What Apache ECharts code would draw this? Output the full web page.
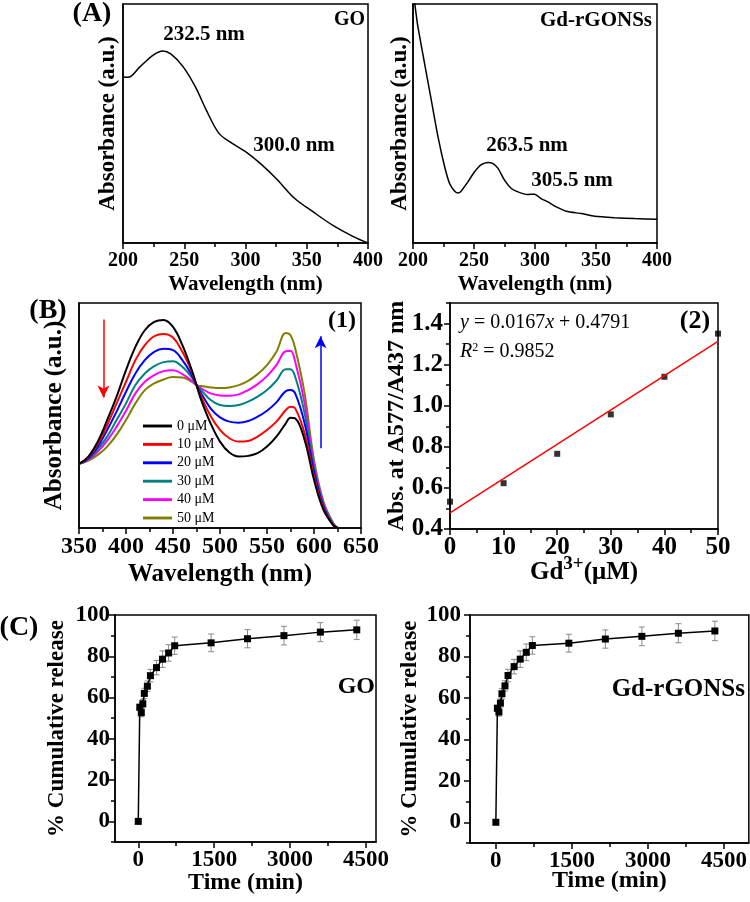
<!DOCTYPE html>
<html><head><meta charset="utf-8">
<script src="https://cdn.jsdelivr.net/npm/echarts@6/dist/echarts.min.js"></script>
<style>html,body{margin:0;padding:0;background:#fff}#c{width:750px;height:902px}</style>
</head><body><div id="c"></div>
<script>
// ---------- DATA ----------
// (A) UV-vis spectra
const goWavelength = [200,204,214,225,232.5,239,249,259,268,278,287,300,312,325,340,355,371,388,400];
const goAbs = [0.696,0.693,0.738,0.787,0.803,0.791,0.738,0.654,0.556,0.461,0.424,0.382,0.333,0.270,0.187,0.131,0.075,0.027,0.0];
const gdWavelength = [200,202,204,209.5,215,220.5,226,230,234,237,239.6,245,250.5,256,261.5,265.6,269.7,275,280.6,286,294,299.7,305,310.6,317.5,325.7,338,349,365,381.7,400];
const gdAbs = [1.06,0.98,0.905,0.751,0.598,0.444,0.318,0.249,0.218,0.209,0.218,0.256,0.298,0.328,0.337,0.332,0.312,0.263,0.228,0.214,0.203,0.204,0.186,0.172,0.151,0.133,0.123,0.112,0.106,0.102,0.099];
const aTicks = [200,250,300,350,400];
const aMinorTicks = [225,275,325,375];

// (B1) titration spectra (arbitrary units)
const bWavelength = [350,360,370,380,390,400,410,420,430,440,450,460,470,475,480,490,500,510,520,530,540,550,560,570,575,580,590,600,610,620,625];
const bNames = ['0 μM','10 μM','20 μM','30 μM','40 μM','50 μM'];
const b0  = [193,215,260,325,395,475,545,595,620,626,605,550,475,430,385,315,260,227,215,217,225,245,275,315,332,330,265,145,55,10,0];
const b10 = [193,213,253,310,375,440,505,550,577,584,573,530,470,430,395,337,295,270,260,262,275,295,320,355,365,360,285,155,60,10,0];
const b20 = [193,210,245,295,350,410,465,505,530,539,535,505,460,430,405,360,333,320,317,322,335,353,378,412,415,405,315,170,65,10,0];
const b30 = [193,207,237,275,325,375,430,465,487,499,502,485,453,430,415,385,370,367,370,380,395,415,443,478,478,455,345,180,70,15,0];
const b40 = [193,205,230,263,305,353,405,440,460,472,475,463,443,430,420,405,399,398,402,415,433,457,490,532,533,500,375,190,75,15,0];
const b50 = [193,203,220,245,280,325,375,415,435,447,454,453,440,430,427,423,421,423,430,443,463,490,530,587,580,540,405,205,80,17,0];
const bColors = ['#000000','#ff0000','#0000ff','#008080','#ff00ff','#808000'];
const bTicks = [350,400,450,500,550,600,650];
const bMinorTicks = [375,425,475,525,575,625];
const redArrowX = 376, redArrowFrom = 627, redArrowTo = 393;
const blueArrowX = 607, blueArrowFrom = 240, blueArrowTo = 577;

// (B2) calibration
const gdConc = [0,10,20,30,40,50];
const ratio = [0.533,0.623,0.766,0.958,1.141,1.351];
const fitX = [0,50];
const fitY = [0.479,1.313];
const b2xTicks = [0,10,20,30,40,50];
const b2xMinor = [5,15,25,35,45];
const b2yTicks = [0.4,0.6,0.8,1.0,1.2,1.4];
const b2yMinor = [0.5,0.7,0.9,1.1,1.3,1.5];

// (C) release
const time = [0,30,60,90,120,180,240,360,480,600,720,1440,2160,2880,3600,4320];
const releaseGO = [0,55.3,52.7,57,62,65.5,70.6,74.5,78.6,81.6,85.1,86.5,88.5,90,91.7,92.8];
const releaseGd = [0,55,53.2,57.5,62,65.8,70.8,75.1,78.7,82,85.3,86.4,88.4,89.7,91.2,92.3];
const errGO = [0,1.5,2,2,2.5,2.5,3,3.5,4,4,4.2,4.3,4.4,4.5,4.6,4.7];
const errGd = [0,1.5,2,2,2.5,2.5,3,3.5,4,4,4.2,4.3,4.4,4.5,4.6,4.7];
const cxTicks = [0,1500,3000,4500];
const cxMinor = [750,2250,3750];
const cyTicks = [0,20,40,60,80,100];
const cyMinor = [-10,10,30,50,70,90];

// ---------- CHART ----------
const FONT = '"Liberation Serif","Times New Roman",serif';
const grids = [
  {left:123, top:4, width:245, height:239},
  {left:413, top:4, width:244, height:239},
  {left:79, top:303, width:282, height:225},
  {left:450, top:303, width:268, height:226},
  {left:115, top:615, width:261, height:227},
  {left:470, top:615, width:279, height:228}
].map(g => Object.assign(g, {show:true, borderColor:'#000', borderWidth:1.5, backgroundColor:'transparent'}));

const xAxes = [], yAxes = [];
function addAxis(arr, gridIndex, c) {
  const idx = arr.length;
  const ls = {color:'#000', width:1.5};
  arr.push({
    type:'value', gridIndex, min:c.min, max:c.max, position:c.position,
    axisLine:{show:true, onZero:false, lineStyle:ls},
    axisTick:{show:!!(c.majors && c.majors.length), inside:false, length:6, customValues:c.majors, lineStyle:ls},
    axisLabel:{show:!!c.labels, customValues:c.majors, margin:c.margin||8, fontFamily:FONT, fontWeight:'bold',
      fontSize:c.fontSize||20, color:'#000', formatter:c.formatter || (v=>String(v))},
    splitLine:{show:false}, minorTick:{show:false},
    name:c.name, nameLocation:'middle', nameGap:c.nameGap, nameMoveOverlap:false,
    nameTextStyle:Object.assign({fontFamily:FONT, fontWeight:'bold', fontSize:c.nameSize||20, color:'#000'}, c.nameStyle||{})
  });
  if (c.minors && c.minors.length) {
    arr.push({type:'value', gridIndex, min:c.min, max:c.max, position:c.position,
      axisLine:{show:false, onZero:false}, axisLabel:{show:false}, splitLine:{show:false},
      axisTick:{show:true, inside:false, length:4, customValues:c.minors, lineStyle:ls}});
  }
  return idx;
}
// A1
const ax0 = addAxis(xAxes,0,{min:200,max:400,majors:aTicks,minors:aMinorTicks,labels:true,fontSize:20,margin:8,name:'Wavelength (nm)',nameGap:31,nameSize:21,position:'bottom'});
const ay0 = addAxis(yAxes,0,{min:0,max:1,majors:[],labels:false,name:'Absorbance (a.u.)',nameGap:3,nameSize:23,position:'left'});
// A2
const ax1 = addAxis(xAxes,1,{min:200,max:400,majors:aTicks,minors:aMinorTicks,labels:true,fontSize:20,margin:8,name:'Wavelength (nm)',nameGap:31,nameSize:21,position:'bottom'});
const ay1 = addAxis(yAxes,1,{min:0,max:1,majors:[],labels:false,name:'Absorbance (a.u.)',nameGap:1,nameSize:23,position:'left'});
// B1
const ax2 = addAxis(xAxes,2,{min:350,max:650,majors:bTicks,minors:bMinorTicks,labels:true,fontSize:24,margin:7,name:'Wavelength (nm)',nameGap:34,nameSize:25,position:'bottom'});
const ay2 = addAxis(yAxes,2,{min:0,max:677,majors:[],labels:false,name:'Absorbance (a.u.)',nameGap:12,nameSize:25,position:'left'});
// B2
const ax3 = addAxis(xAxes,3,{min:0,max:50,majors:b2xTicks,minors:b2xMinor,labels:true,fontSize:25,margin:6,
  name:'{a|Gd}{s|3+}{a|(μM)}',nameGap:26,position:'bottom',
  nameStyle:{rich:{a:{fontFamily:FONT,fontWeight:'bold',fontSize:25,color:'#000'},s:{fontFamily:FONT,fontWeight:'bold',fontSize:19,color:'#000',padding:[0,0,16,0]}}}});
const ay3 = addAxis(yAxes,3,{min:0.4,max:1.5,majors:b2yTicks,minors:b2yMinor,labels:true,fontSize:25,margin:7,
  formatter:v=>v.toFixed(1),name:'Abs. at A577/A437 nm',nameGap:41,nameSize:24,position:'left'});
// C1
const ax4 = addAxis(xAxes,4,{min:-460,max:4700,majors:cxTicks,minors:cxMinor,labels:true,fontSize:23,margin:7,name:'Time (min)',nameGap:29,nameSize:24,position:'bottom'});
const ay4 = addAxis(yAxes,4,{min:-10,max:100,majors:cyTicks,minors:cyMinor,labels:true,fontSize:23,margin:5,name:'% Cumulative release',nameGap:46,nameSize:23,position:'left'});
// C2
const ax5 = addAxis(xAxes,5,{min:-510,max:4990,majors:cxTicks,minors:cxMinor,labels:true,fontSize:23,margin:7,name:'Time (min)',nameGap:26,nameSize:24,position:'bottom'});
const ay5 = addAxis(yAxes,5,{min:-10,max:100,majors:cyTicks,minors:cyMinor,labels:true,fontSize:23,margin:9,name:'% Cumulative release',nameGap:48,nameSize:23,position:'left'});

const zip = (xs, ys) => xs.map((x,i)=>[x, ys[i]]);
const series = [];
series.push({type:'line', xAxisIndex:ax0, yAxisIndex:ay0, data:zip(goWavelength, goAbs), smooth:0.35, symbol:'none', lineStyle:{color:'#000',width:1.5}});
series.push({type:'line', xAxisIndex:ax1, yAxisIndex:ay1, data:zip(gdWavelength, gdAbs), smooth:0.2, symbol:'none', lineStyle:{color:'#000',width:1.5}});
const bSets = [b0,b10,b20,b30,b40,b50];
bSets.forEach((arr,i)=>{
  series.push({type:'line', name:bNames[i], xAxisIndex:ax2, yAxisIndex:ay2, data:zip(bWavelength, arr), smooth:0.4, symbol:'none',
    lineStyle:{color:bColors[i], width:2}, itemStyle:{color:bColors[i]}, z:10-i});
});
series.push({type:'line', xAxisIndex:ax2, yAxisIndex:ay2, data:[], symbol:'none', silent:true,
  markLine:{silent:true, symbol:['none','arrow'], symbolSize:[9,12], label:{show:false},
    data:[
      [{coord:[redArrowX, redArrowFrom], lineStyle:{color:'#ff0000',width:1.5,type:'solid'}},{coord:[redArrowX, redArrowTo]}],
      [{coord:[blueArrowX, blueArrowFrom], lineStyle:{color:'#0000ff',width:1.5,type:'solid'}},{coord:[blueArrowX, blueArrowTo]}]
    ]}});
series.push({type:'line', xAxisIndex:ax3, yAxisIndex:ay3, data:zip(fitX, fitY), symbol:'none', lineStyle:{color:'#ff0000',width:1.5}});
series.push({type:'scatter', xAxisIndex:ax3, yAxisIndex:ay3, data:zip(gdConc, ratio), symbol:'rect', symbolSize:6, itemStyle:{color:'#000'}});

function errSeries(xi, yi, vals, errs) {
  return {type:'custom', xAxisIndex:xi, yAxisIndex:yi, z:1, silent:true,
    data: time.map((t,i)=>[t, vals[i], errs[i]]),
    renderItem(params, api){
      const x=api.value(0), y=api.value(1), e=api.value(2);
      if (!e) return null;
      const a=api.coord([x,y+e]), b=api.coord([x,y-e]);
      const st={stroke:'#8a8a8a', lineWidth:1};
      return {type:'group', children:[
        {type:'line', shape:{x1:a[0],y1:a[1],x2:b[0],y2:b[1]}, style:st},
        {type:'line', shape:{x1:a[0]-3,y1:a[1],x2:a[0]+3,y2:a[1]}, style:st},
        {type:'line', shape:{x1:b[0]-3,y1:b[1],x2:b[0]+3,y2:b[1]}, style:st}
      ]};
    }};
}
series.push(errSeries(ax4, ay4, releaseGO, errGO));
series.push({type:'line', xAxisIndex:ax4, yAxisIndex:ay4, data:zip(time, releaseGO), symbol:'rect', symbolSize:7, lineStyle:{color:'#000',width:1.5}, itemStyle:{color:'#000'}, z:3});
series.push(errSeries(ax5, ay5, releaseGd, errGd));
series.push({type:'line', xAxisIndex:ax5, yAxisIndex:ay5, data:zip(time, releaseGd), symbol:'rect', symbolSize:7, lineStyle:{color:'#000',width:1.5}, itemStyle:{color:'#000'}, z:3});

function txt(x, y, text, size, opts) {
  return {type:'text', x, y, z:100, style:Object.assign({text, fontFamily:FONT, fontWeight:'bold', fontSize:size, fill:'#000', align:'center', verticalAlign:'middle'}, opts||{})};
}
const graphics = [
  txt(92,14,'(A)',28), txt(48,311,'(B)',28), txt(19,628,'(C)',28),
  txt(204,35,'232.5 nm',21), txt(294,146,'300.0 nm',21), txt(365,20,'GO',20,{align:'right'}),
  txt(652,21,'Gd-rGONSs',21,{align:'right'}), txt(527,146,'263.5 nm',21), txt(572,181,'305.5 nm',21),
  txt(342,321,'(1)',24), txt(695,321,'(2)',26),
  txt(460,323,'{i|y} = 0.0167{i|x} + 0.4791',20,{align:'left', fontWeight:'normal',
     rich:{i:{fontFamily:FONT,fontStyle:'italic',fontSize:20,fill:'#000'}}}),
  txt(460,352,'{i|R}{s|2} = 0.9852',20,{align:'left', fontWeight:'normal',
     rich:{i:{fontFamily:FONT,fontStyle:'italic',fontSize:20,fill:'#000'}, s:{fontFamily:FONT,fontSize:12,fill:'#000',padding:[0,0,9,0]}}}),
  txt(375,687,'GO',24,{align:'right'}),
  txt(745,690,'Gd-rGONSs',25,{align:'right'})
];

const chart = echarts.init(document.getElementById('c'), null, {renderer:'canvas'});
chart.setOption({
  animation:false, backgroundColor:'#fff',
  grid:grids, xAxis:xAxes, yAxis:yAxes, series,
  legend:{data:bNames, orient:'vertical', left:138, top:414, itemWidth:29, itemHeight:14, itemGap:4.4,
    textStyle:{fontFamily:FONT, fontSize:14, color:'#000'}, icon:'path://M0,0 L10,0 L10,1 L0,1 Z', selectedMode:false},
  graphic:graphics
});
</script></body></html>
